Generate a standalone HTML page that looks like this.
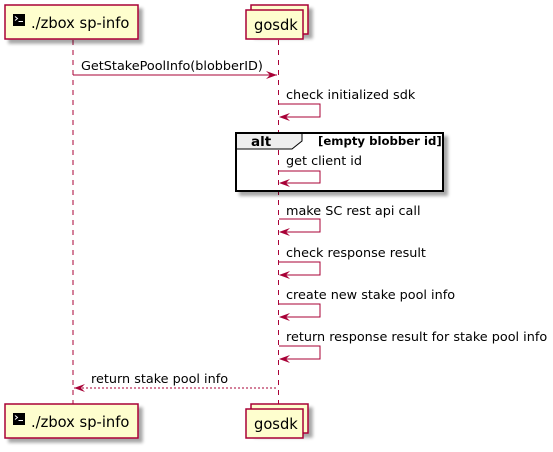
<!DOCTYPE html>
<html><head><meta charset="utf-8"><style>
html,body{margin:0;padding:0;background:#fff;}
svg{display:block;font-family:"DejaVu Sans","Liberation Sans",sans-serif;}
</style></head><body>
<svg width="553" height="452" viewBox="0 0 553 452" xmlns="http://www.w3.org/2000/svg">
<defs>
<filter id="sh" x="-20%" y="-20%" width="150%" height="160%"><feGaussianBlur in="SourceAlpha" stdDeviation="1.5"/><feOffset dx="4" dy="4"/><feComponentTransfer><feFuncA type="linear" slope="0.35"/></feComponentTransfer><feMerge><feMergeNode/><feMergeNode in="SourceGraphic"/></feMerge></filter>
</defs>
<line x1="73" y1="40" x2="73" y2="404" stroke="#A80036" stroke-dasharray="5,5"/>
<line x1="278.5" y1="40" x2="278.5" y2="404" stroke="#A80036" stroke-dasharray="5,5"/>

<rect x="5" y="5" width="133" height="34" fill="#FEFECE" stroke="#A80036" stroke-width="1.5" filter="url(#sh)"/>
<rect x="13" y="14" width="12" height="12" fill="#000"/>
<path d="M15 16.5 L17.5 18.5 L15 20.5" stroke="#fff" fill="none" stroke-width="1"/>
<line x1="18.5" y1="21.5" x2="23" y2="21.5" stroke="#fff"/>
<text x="31" y="28" font-size="14.7">./zbox sp-info</text>
<rect x="251" y="5" width="57" height="29" fill="#FEFECE" stroke="#A80036" stroke-width="1.5" filter="url(#sh)"/>
<rect x="246" y="10" width="57" height="29" fill="#FEFECE" stroke="#A80036" stroke-width="1.5"/>
<text x="254" y="30" font-size="14.7">gosdk</text>

<rect x="5" y="404" width="133" height="34" fill="#FEFECE" stroke="#A80036" stroke-width="1.5" filter="url(#sh)"/>
<rect x="13" y="413" width="12" height="12" fill="#000"/>
<path d="M15 415.5 L17.5 417.5 L15 419.5" stroke="#fff" fill="none" stroke-width="1"/>
<line x1="18.5" y1="420.5" x2="23" y2="420.5" stroke="#fff"/>
<text x="31" y="427" font-size="14.7">./zbox sp-info</text>
<rect x="251" y="404" width="57" height="29" fill="#FEFECE" stroke="#A80036" stroke-width="1.5" filter="url(#sh)"/>
<rect x="246" y="409" width="57" height="29" fill="#FEFECE" stroke="#A80036" stroke-width="1.5"/>
<text x="254" y="429" font-size="14.7">gosdk</text>

<line x1="73" y1="75" x2="277" y2="75" stroke="#A80036"/>
<path d="M266 71 L277 75 L266 79 L270 75 Z" fill="#A80036"/>
<text x="81" y="70" font-size="12.8">GetStakePoolInfo(blobberID)</text>

<rect x="236" y="133" width="207" height="58" fill="#fff" stroke="#000" stroke-width="2" filter="url(#sh)"/>
<path d="M236 133 L302 133 L302 141 L292 149 L236 149 Z" fill="#EEEEEE" stroke="#000" stroke-width="1"/>
<rect x="236" y="133" width="207" height="58" fill="none" stroke="#000" stroke-width="2"/>
<text x="251" y="146" font-size="13.5" font-weight="bold">alt</text>
<text x="318" y="145" font-size="11.7" font-weight="bold">[empty blobber id]</text>
<line x1="278.5" y1="150" x2="278.5" y2="190" stroke="#A80036" stroke-dasharray="5,5"/>

<g fill="none" stroke="#A80036">
<path d="M279 104 H320 V117 H280"/>
<path d="M279 171 H320 V183 H280"/>
<path d="M279 219 H320 V232 H280"/>
<path d="M279 262 H320 V275 H280"/>
<path d="M279 304 H320 V317 H280"/>
<path d="M279 346 H320 V359 H280"/>
</g>
<g fill="#A80036">
<path d="M290 113 L279 117 L290 121 L286 117 Z"/>
<path d="M290 179 L279 183 L290 187 L286 183 Z"/>
<path d="M290 228 L279 232 L290 236 L286 232 Z"/>
<path d="M290 271 L279 275 L290 279 L286 275 Z"/>
<path d="M290 313 L279 317 L290 321 L286 317 Z"/>
<path d="M290 355 L279 359 L290 363 L286 359 Z"/>
</g>
<g font-size="12.8">
<text x="286" y="99">check initialized sdk</text>
<text x="286" y="165">get client id</text>
<text x="286" y="215">make SC rest api call</text>
<text x="286" y="257">check response result</text>
<text x="286" y="299">create new stake pool info</text>
<text x="286" y="341">return response result for stake pool info</text>
</g>

<line x1="74" y1="388" x2="278" y2="388" stroke="#A80036" stroke-dasharray="2,2"/>
<path d="M85 384 L74 388 L85 392 L81 388 Z" fill="#A80036"/>
<text x="91" y="383" font-size="12.8">return stake pool info</text>
</svg>
</body></html>
